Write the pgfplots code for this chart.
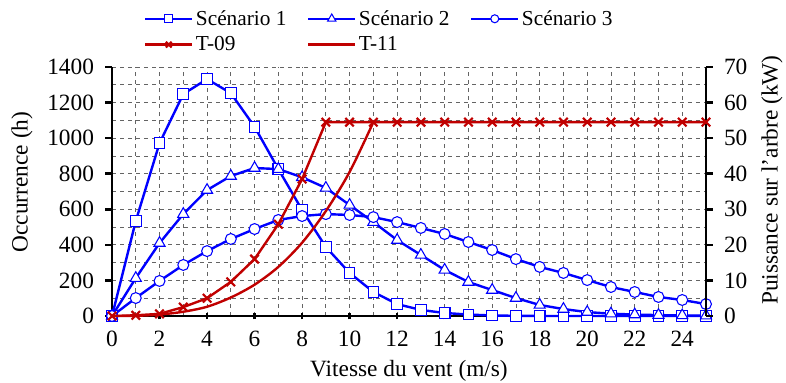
\documentclass[border=0pt]{standalone}
\usepackage{fontspec}
\setmainfont{Liberation Serif}
\usepackage{pgfplots}
\pgfplotsset{compat=1.18}
\definecolor{sblue}{RGB}{0,0,255}
\definecolor{tred}{RGB}{192,0,0}
\definecolor{gridc}{RGB}{100,100,100}

\pgfplotsset{
  base/.style={
    scale only axis, width=445.5pt, height=186.75pt,
    xmin=0, xmax=25,
    font=\fontsize{17.5}{20}\selectfont,
    /pgf/number format/assume math mode=true,
    /pgf/number format/1000 sep={},
    axis line style={line width=2pt, black},
    major tick style={line width=2pt, black},
    major tick length=5pt,
    minor tick length=0pt,
    clip=false,
  },
}

\begin{document}
\begin{tikzpicture}
\begin{axis}[base,
  ymin=0, ymax=1400,
  axis x line*=bottom, axis y line*=left,
  xtick={0,2,...,24}, minor xtick={1,3,...,25},
  ytick={0,200,...,1400}, minor ytick={100,300,...,1300},
  xtick align=center, ytick align=outside,
  xticklabel style={yshift=-5pt},
  yticklabel style={xshift=-5pt},
  grid=both, grid style={dashed, gridc, line width=0.6pt},
  xlabel={Vitesse du vent (m/s)}, ylabel={Occurrence (h)},
  xlabel style={at={(rel axis cs:0.5,-0.222)}, anchor=center},
  ylabel style={at={(rel axis cs:-0.1515,0.538)}, anchor=center},
  every axis plot/.append style={sblue, line width=1.8pt,
    mark options={solid, fill=white, line width=0.8pt}},
]
% Scenario 1
\addplot[mark=square*, mark size=4pt] coordinates {
(0,0)(1,534)(2,972)(3,1248)(4,1332)(5,1253)(6,1064)(7,826)(8,596)(9,388)
(10,242)(11,135)(12,67)(13,34)(14,17)(15,8)(16,3)(17,1)(18,0)(19,0)
(20,0)(21,0)(22,0)(23,0)(24,0)(25,0)};
% Scenario 2
\addplot[mark=triangle*, mark size=4.8pt] coordinates {
(0,0)(1,213)(2,410)(3,573)(4,708)(5,787)(6,832)(7,826)(8,780)(9,720)
(10,624)(11,528)(12,427)(13,343)(14,259)(15,191)(16,146)(17,101)(18,62)(19,39)
(20,22)(21,13)(22,8)(23,5)(24,3)(25,2)};
% Scenario 3
\addplot[mark=*, mark size=4.1pt] coordinates {
(0,0)(1,101)(2,197)(3,287)(4,365)(5,433)(6,489)(7,540)(8,562)(9,573)
(10,568)(11,556)(12,528)(13,495)(14,461)(15,416)(16,371)(17,320)(18,276)(19,242)
(20,202)(21,163)(22,135)(23,107)(24,90)(25,67)};
\end{axis}

\begin{axis}[base,
  ymin=0, ymax=70,
  axis x line=none, axis y line*=right,
  ytick={0,10,...,70}, ytick align=outside,
  yticklabel style={xshift=5pt},
  ylabel={Puissance sur l’arbre (kW)},
  ylabel style={at={(rel axis cs:1.111,0.546)}, anchor=center},
  legend columns=3,
  legend style={draw=none, fill=none, at={(0.047,1.25)}, anchor=north west,
    font=\fontsize{16}{19}\selectfont,
    /tikz/row sep=3pt,
    /tikz/every even column/.append style={column sep=13.5pt}},
  legend cell align=left,
  legend image code/.code={\draw[mark repeat=2,mark phase=2]
    plot coordinates {(0pt,0pt)(17.5pt,0pt)(35pt,0pt)};},
  every axis plot/.append style={tred, line width=1.8pt},
]
\addlegendimage{sblue, line width=1.8pt, mark=square*, mark size=3pt, mark options={solid, fill=white, line width=0.8pt}}
\addlegendentry{Scénario 1}
\addlegendimage{sblue, line width=1.8pt, mark=triangle*, mark size=3.6pt, mark options={solid, fill=white, line width=0.8pt}}
\addlegendentry{Scénario 2}
\addlegendimage{sblue, line width=1.8pt, mark=*, mark size=3pt, mark options={solid, fill=white, line width=0.8pt}}
\addlegendentry{Scénario 3}
\addlegendimage{tred, line width=1.8pt, mark=x, mark size=3pt, mark options={line width=1.6pt}}
\addlegendentry{T-09}
\addlegendimage{tred, line width=1.8pt, no marks}
\addlegendentry{T-11}
% T-09
\addplot[mark=x, mark size=4.5pt, mark options={line width=1.6pt}, forget plot] coordinates {
(0,0)(1,0.2)(2,0.6)(3,2.5)(4,5)(5,9.6)(6,16)(7,25.8)(8,38.5)(9,54.5)
(10,54.5)(11,54.5)(12,54.5)(13,54.5)(14,54.5)(15,54.5)(16,54.5)(17,54.5)(18,54.5)(19,54.5)
(20,54.5)(21,54.5)(22,54.5)(23,54.5)(24,54.5)(25,54.5)};
% T-11
\addplot[no marks, smooth, forget plot] coordinates {
(0,0)(1,0.05)(2,0.4)(3,1.2)(4,2.6)(5,5.2)(6,8.8)(7,13.8)(8,20.6)(9,29.5)(10,40.5)(11,54.5)};
\addplot[no marks, forget plot] coordinates {
(11,54.5)(12,54.5)(13,54.5)(14,54.5)(15,54.5)(16,54.5)(17,54.5)(18,54.5)(19,54.5)
(20,54.5)(21,54.5)(22,54.5)(23,54.5)(24,54.5)(25,54.5)};
\coordinate (bl) at (rel axis cs:-0.1886,-0.2691);
\coordinate (tr) at (rel axis cs:1.1347,1.2691);
\end{axis}
\pgfresetboundingbox
\useasboundingbox (bl) rectangle (tr);
\end{tikzpicture}
\end{document}
